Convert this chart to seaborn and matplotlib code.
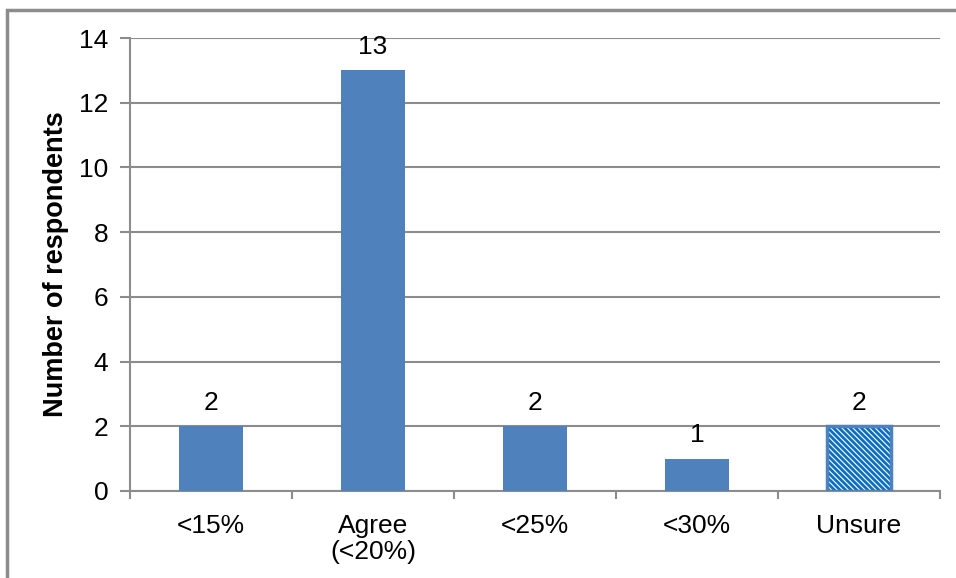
import matplotlib
matplotlib.use("Agg")
import matplotlib.pyplot as plt
import seaborn as sns
import pandas as pd
from matplotlib.patches import Rectangle

categories = ["<15%", "Agree\n(<20%)", "<25%", "<30%", "Unsure"]
respondents = [2, 13, 2, 1, 2]
y_ticks = [0, 2, 4, 6, 8, 10, 12, 14]

BLUE = "#4F81BD"
STRIPE = "#0A6FC2"
GRID = "#8C8C8C"
FS = 19

sns.set_theme(style="white")
plt.rcParams["font.family"] = ["Liberation Sans", "DejaVu Sans"]
plt.rcParams["hatch.linewidth"] = 2.0
plt.rcParams["text.color"] = "black"
plt.rcParams["axes.labelcolor"] = "black"
plt.rcParams["xtick.color"] = "black"
plt.rcParams["ytick.color"] = "black"

df = pd.DataFrame({"category": categories, "count": respondents})

fig = plt.figure(figsize=(9.56, 5.78), dpi=100)
ax = fig.add_axes([130 / 956, 1 - 491 / 578, 810 / 956, (491 - 38) / 578])

sns.barplot(data=df, x="category", y="count", color=BLUE, saturation=1,
            width=0.4, linewidth=0, ax=ax, zorder=3)

# the "Unsure" bar is drawn with a striped fill
unsure = ax.patches[-1]
unsure.set_facecolor("white")
unsure.set_edgecolor(STRIPE)
unsure.set_hatch("\\" * 6)
unsure.set_linewidth(0)
outline = Rectangle(unsure.get_xy(), unsure.get_width(), unsure.get_height(),
                    facecolor="none", edgecolor=BLUE, linewidth=2.5, zorder=4)
ax.add_patch(outline)

# value labels above the bars
for i, v in enumerate(respondents):
    ax.text(i, v + 0.5, str(v), ha="center", va="baseline", fontsize=FS,
            color="black")

ax.set_xlim(-0.5, len(categories) - 0.5)
ax.set_ylim(0, 14)
ax.set_yticks(y_ticks)
ax.set_yticklabels([str(t) for t in y_ticks])
ax.yaxis.grid(True, color=GRID, linewidth=1.5, zorder=0)
ax.set_axisbelow(True)

# category labels centred, tick marks at category boundaries
ax.set_xticks(range(len(categories)))
ax.set_xticklabels(categories, fontsize=FS, linespacing=1.12)
ax.set_xticks([i - 0.5 for i in range(len(categories) + 1)], minor=True)
ax.tick_params(axis="x", which="major", length=0, pad=16.5)
ax.tick_params(axis="x", which="minor", length=6, width=1.5, color=GRID,
               bottom=True)
ax.tick_params(axis="y", which="major", length=7, width=1.5, color=GRID,
               left=True, labelsize=FS, pad=8.5)

ax.set_xlabel("")
ax.set_ylabel("Number of respondents", fontsize=19.5, fontweight="bold",
              labelpad=7)

for side in ("top", "right"):
    ax.spines[side].set_visible(False)
for side in ("left", "bottom"):
    ax.spines[side].set_color(GRID)
    ax.spines[side].set_linewidth(1.5)

# outer chart frame
frame = Rectangle((6.5 / 956, -0.1), 1.2, 1 - 9.5 / 578 + 0.1,
                  transform=fig.transFigure, facecolor="none",
                  edgecolor=GRID, linewidth=2.5, clip_on=False)
fig.patches.append(frame)

fig.savefig("out.png", dpi=100)
